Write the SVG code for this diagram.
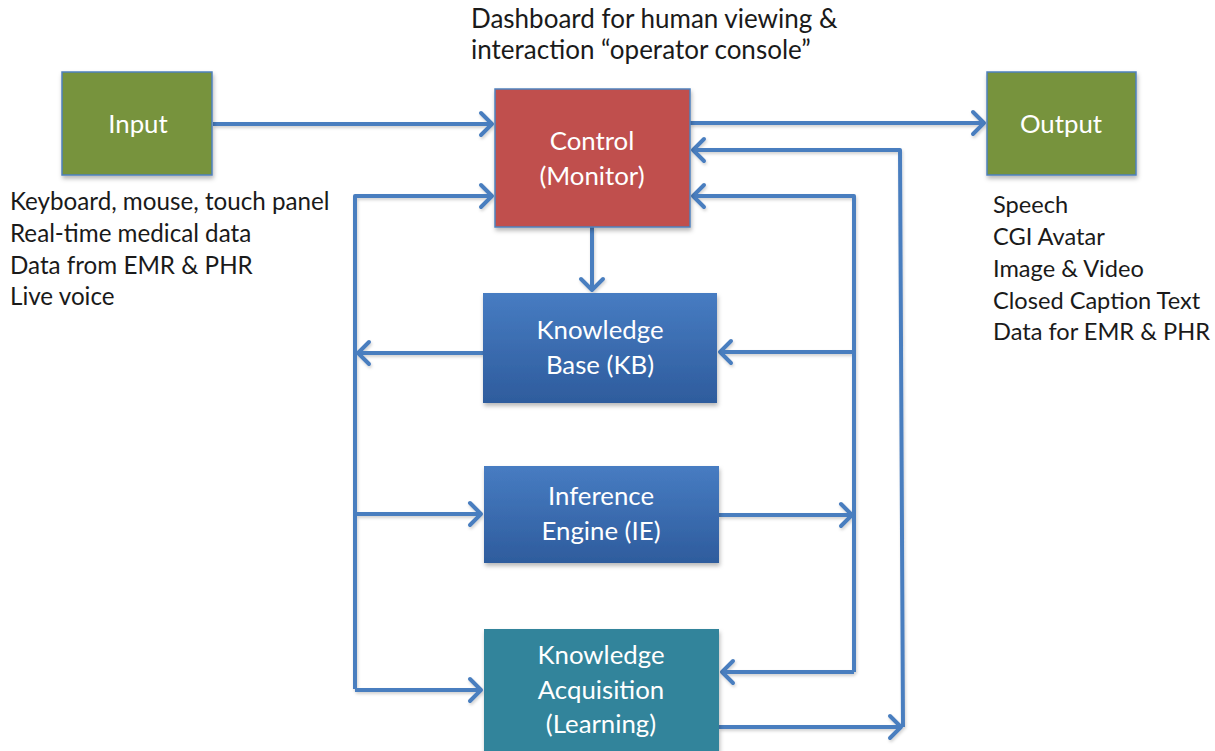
<svg xmlns="http://www.w3.org/2000/svg" width="1215" height="751" viewBox="0 0 1215 751">
<style>
.lbl{font-family:Lato,"Open Sans","Liberation Sans",sans-serif;font-size:24.2px;fill:#1a1a1a}
.top{font-size:26px}
.out{font-size:23.6px}
.box{font-family:Lato,"Open Sans","Liberation Sans",sans-serif;font-size:25.8px;fill:#ffffff;text-anchor:middle}
.conn path{fill:none;stroke:#4A7EBF;stroke-width:4;stroke-linejoin:round}
.arrow{marker-end:url(#chev)}
</style>
<defs>
<linearGradient id="blueG" x1="0" y1="0" x2="0" y2="1">
<stop offset="0" stop-color="#477CC2"/>
<stop offset="1" stop-color="#2E5C9D"/>
</linearGradient>
<filter id="sh" x="-10%" y="-10%" width="130%" height="130%">
<feDropShadow dx="1" dy="3" stdDeviation="2" flood-color="#000" flood-opacity="0.28"/>
</filter>
<filter id="lsh" x="-5%" y="-5%" width="110%" height="110%">
<feDropShadow dx="1" dy="2" stdDeviation="1.5" flood-color="#000" flood-opacity="0.18"/>
</filter>
<marker id="chev" markerUnits="userSpaceOnUse" markerWidth="30" markerHeight="30" viewBox="-16 -15 20 30" refX="0" refY="0" orient="auto">
<path d="M-11 -11 L0 0 L-11 11" fill="none" stroke="#4A7EBF" stroke-width="4" stroke-linecap="round" stroke-linejoin="round"/>
</marker>
</defs>
<rect width="1215" height="751" fill="#ffffff"/>

<g id="connectors" class="conn" filter="url(#lsh)">
<path class="arrow" d="M213 124 H492"/>
<path class="arrow" d="M690 123 H984"/>
<path class="arrow" d="M719 727 H901"/>
<path class="arrow" d="M903 727 L900 150 H693"/>
<path class="arrow" d="M854 672 V196 H693"/>
<path class="arrow" d="M854 672 H722"/>
<path class="arrow" d="M719 515 H852"/>
<path class="arrow" d="M854 352 H720"/>
<path class="arrow" d="M355 689 V196 H492"/>
<path class="arrow" d="M483 353 H358"/>
<path class="arrow" d="M355 514 H481"/>
<path class="arrow" d="M355 690 H481"/>
<path class="arrow" d="M592 227 V290"/>
</g>

<g id="input">
<rect x="62" y="72" width="150" height="103" fill="#77933C" stroke="#4F81BD" stroke-width="1.5" filter="url(#sh)"/>
<text class="box" x="138" y="133">Input</text>
</g>

<g id="control">
<rect x="495" y="89" width="195" height="138" fill="#C0504D" stroke="#4F81BD" stroke-width="1.5" filter="url(#sh)"/>
<text class="box" x="592" y="150">Control</text>
<text class="box" x="592" y="185">(Monitor)</text>
</g>

<g id="output">
<rect x="987" y="72" width="149" height="103" fill="#77933C" stroke="#4F81BD" stroke-width="1.5" filter="url(#sh)"/>
<text class="box" x="1061" y="133">Output</text>
</g>

<g id="kb">
<rect x="483" y="293" width="234" height="110" fill="url(#blueG)" filter="url(#sh)"/>
<text class="box" x="600" y="339">Knowledge</text>
<text class="box" x="600" y="374">Base (KB)</text>
</g>

<g id="ie">
<rect x="484" y="466" width="235" height="97" fill="url(#blueG)" filter="url(#sh)"/>
<text class="box" x="601" y="505">Inference</text>
<text class="box" x="601" y="540">Engine (IE)</text>
</g>

<g id="ka">
<rect x="484" y="629" width="235" height="130" fill="#31849B" filter="url(#sh)"/>
<text class="box" x="601" y="664">Knowledge</text>
<text class="box" x="601" y="699">Acquisition</text>
<text class="box" x="601" y="733">(Learning)</text>
</g>

<g id="dashboard-note">
<text class="lbl top" x="471" y="28">Dashboard for human viewing &amp;</text>
<text class="lbl top" x="471" y="59">interaction “operator console”</text>
</g>

<g id="input-notes">
<text class="lbl" x="10" y="210">Keyboard, mouse, touch panel</text>
<text class="lbl" x="10" y="242">Real-time medical data</text>
<text class="lbl" x="10" y="274">Data from EMR &amp; PHR</text>
<text class="lbl" x="10" y="305">Live voice</text>
</g>

<g id="output-notes">
<text class="lbl out" x="993" y="213">Speech</text>
<text class="lbl out" x="993" y="245">CGI Avatar</text>
<text class="lbl out" x="993" y="277">Image &amp; Video</text>
<text class="lbl out" x="993" y="309">Closed Caption Text</text>
<text class="lbl out" x="993" y="340">Data for EMR &amp; PHR</text>
</g>
</svg>
